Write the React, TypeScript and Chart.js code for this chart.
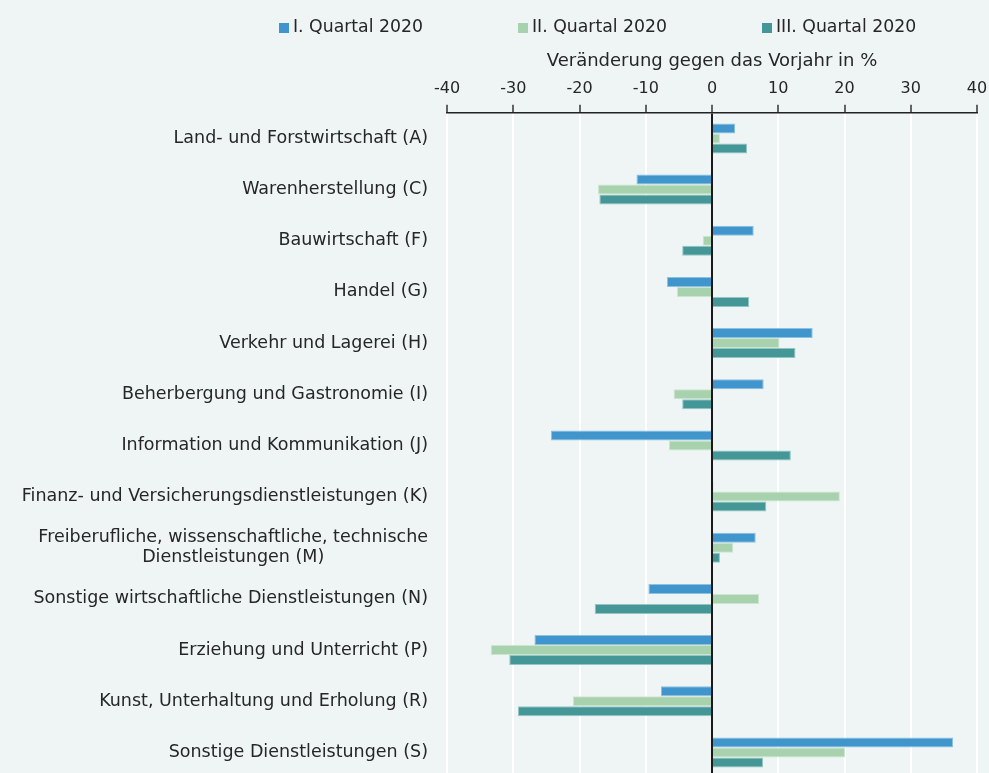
import React, { useEffect, useRef } from "react";
import { Chart, registerables } from "chart.js";

Chart.register(...registerables);

const CATEGORIES: (string | string[])[] = [
  "Land- und Forstwirtschaft (A)",
  "Warenherstellung (C)",
  "Bauwirtschaft (F)",
  "Handel (G)",
  "Verkehr und Lagerei (H)",
  "Beherbergung und Gastronomie (I)",
  "Information und Kommunikation (J)",
  "Finanz- und Versicherungsdienstleistungen (K)",
  ["Freiberufliche, wissenschaftliche, technische", "Dienstleistungen (M)"],
  "Sonstige wirtschaftliche Dienstleistungen (N)",
  "Erziehung und Unterricht (P)",
  "Kunst, Unterhaltung und Erholung (R)",
  "Sonstige Dienstleistungen (S)",
];

const SERIES_LABELS = ["I. Quartal 2020", "II. Quartal 2020", "III. Quartal 2020"];

const Q1 = [3.5, -11.4, 6.3, -6.8, 15.2, 7.8, -24.3, 0.2, 6.6, -9.6, -26.8, -7.7, 36.4];
const Q2 = [1.2, -17.2, -1.4, -5.3, 10.2, -5.8, -6.5, 19.3, 3.2, 7.1, -33.4, -21.0, 20.1];
const Q3 = [5.3, -17.0, -4.5, 5.6, 12.6, -4.5, 11.9, 8.2, 1.2, -17.7, -30.6, -29.3, 7.7];

const X_MIN = -40;
const X_MAX = 40;
const X_STEP = 10;
const AXIS_TITLE = "Veränderung gegen das Vorjahr in %";

const COLORS = ["#3f95cc", "#a8d1ae", "#459797"];
const BORDER_COLORS = ["#8cc1e2", "#cde5d0", "#94c5c5"];
const LEGEND_X = [279, 518, 762];

const FONT_FAMILY = "'DejaVu Sans', sans-serif";
const TEXT_COLOR = "#262626";
const BG = "#eff5f5";

const labelsPlugin = {
  id: "fixedLegendAndLabels",
  afterDraw(chart: any) {
    const ctx = chart.ctx;
    ctx.save();
    // legend
    ctx.font = `17.3px ${FONT_FAMILY}`;
    ctx.textBaseline = "middle";
    ctx.textAlign = "left";
    chart.data.datasets.forEach((ds: any, i: number) => {
      const x = LEGEND_X[i];
      ctx.fillStyle = ds.backgroundColor;
      ctx.fillRect(x, 23, 10, 10);
      ctx.fillStyle = TEXT_COLOR;
      ctx.fillText(ds.label, x + 14, 28);
    });
    // category labels: block right-aligned, lines centered within block
    const yScale = chart.scales.y;
    ctx.font = `17.5px ${FONT_FAMILY}`;
    ctx.textAlign = "center";
    const right = yScale.right - 19;
    const lineH = 20;
    (chart.data.labels as any[]).forEach((lab: any, i: number) => {
      const y = yScale.getPixelForTick(i);
      const lines: string[] = Array.isArray(lab) ? lab : [lab];
      const maxW = Math.max(...lines.map((l) => ctx.measureText(l).width));
      const cx = right - maxW / 2;
      lines.forEach((l, j) => {
        ctx.fillText(l, cx, y + (j - (lines.length - 1) / 2) * lineH);
      });
    });
    ctx.restore();
  },
};

export default function App() {
  const ref = useRef<HTMLCanvasElement | null>(null);

  useEffect(() => {
    if (!ref.current) return;
    const series = [Q1, Q2, Q3];
    const chart = new Chart(ref.current, {
      type: "bar",
      data: {
        labels: CATEGORIES,
        datasets: series.map((d, i) => ({
          label: SERIES_LABELS[i],
          data: d,
          backgroundColor: COLORS[i],
          borderColor: BORDER_COLORS[i],
          borderWidth: 1,
          barPercentage: 1,
          categoryPercentage: 0.586,
        })),
      },
      options: {
        indexAxis: "y",
        responsive: false,
        animation: false,
        devicePixelRatio: 1,
        layout: { padding: { top: 51, right: 0, bottom: 2, left: 0 } },
        plugins: {
          legend: { display: false },
          tooltip: { enabled: false },
        },
        scales: {
          x: {
            position: "top",
            min: X_MIN,
            max: X_MAX,
            ticks: {
              stepSize: X_STEP,
              color: TEXT_COLOR,
              font: { family: FONT_FAMILY, size: 16 },
              padding: 6,
            },
            grid: {
              color: (c: any) => (c.tick && c.tick.value === 0 ? "#1a1a1a" : "#ffffff"),
              lineWidth: 2,
              tickColor: "#333333",
              tickWidth: 1.5,
              tickLength: 8,
              drawTicks: true,
            },
            border: { display: true, color: "#222222", width: 1.5 },
            title: {
              display: true,
              text: AXIS_TITLE,
              color: TEXT_COLOR,
              font: { family: FONT_FAMILY, size: 18 },
              padding: { top: 0, bottom: 1 },
            },
            afterFit: (scale: any) => {
              scale.paddingRight = 12;
            },
          },
          y: {
            grid: { display: false, drawTicks: false },
            border: { display: false },
            ticks: { display: false },
            afterFit: (scale: any) => {
              scale.width = 447;
            },
          },
        },
      },
      plugins: [labelsPlugin],
    } as any);
    return () => chart.destroy();
  }, []);

  return (
    <div
      style={{
        position: "fixed",
        left: 0,
        top: 0,
        width: 989,
        height: 773,
        overflow: "hidden",
        background: BG,
      }}
    >
      <canvas ref={ref} width={989} height={780} style={{ display: "block" }} />
    </div>
  );
}
